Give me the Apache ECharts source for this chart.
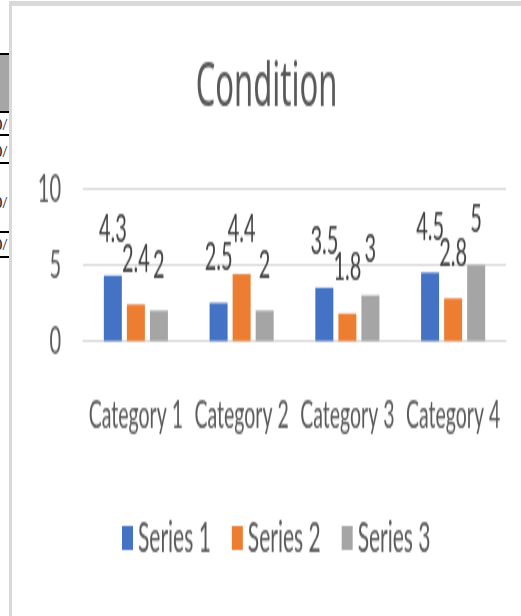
<!DOCTYPE html>
<html>
<head>
<meta charset="utf-8">
<script src="https://cdn.jsdelivr.net/npm/echarts@6/dist/echarts.min.js"></script>
<style>
  html, body { margin: 0; padding: 0; background: #ffffff; width: 521px; height: 616px; overflow: hidden; position: relative; font-family: 'Liberation Serif', serif; }
  #frame { position: absolute; left: 9px; top: 1px; width: 512px; height: 610px; border-left: 3px solid #d9d9d9; border-top: 5px solid #d9d9d9; border-bottom: 5px solid #d9d9d9; box-sizing: content-box; }
  #chart { position: absolute; left: 12px; top: 6px; width: 509px; height: 302px; transform: scaleY(2); transform-origin: 0 0; }
  .strip { position: absolute; left: 0; width: 9px; overflow: hidden; }
  .bl { position: absolute; left: 0; width: 9px; height: 2px; background: #000; }
  .pct { position: absolute; left: -6px; font-size: 17px; color: #222; line-height: 17px; }
</style>
</head>
<body>
<div class="strip" style="top:0;height:616px;">
  <div class="bl" style="top:53px;"></div>
  <div style="position:absolute;left:0;top:55px;width:9px;height:56px;background:#a6a6a6;"></div>
  <div class="bl" style="top:111px;"></div>
  <div class="pct" style="top:116px;">0/</div>
  <div class="bl" style="top:134px;"></div>
  <div class="pct" style="top:143px;">0/</div>
  <div class="bl" style="top:162px;"></div>
  <div class="pct" style="top:194px;">0/</div>
  <div class="bl" style="top:231px;"></div>
  <div class="pct" style="top:236px;">0/</div>
  <div class="bl" style="top:256px;"></div>
</div>
<div id="frame"></div>
<div id="chart"></div>
<script>
var categories = ['Category 1', 'Category 2', 'Category 3', 'Category 4'];
var seriesNames = ['Series 1', 'Series 2', 'Series 3'];
var series1 = [4.3, 2.5, 3.5, 4.5];
var series2 = [2.4, 4.4, 1.8, 2.8];
var series3 = [2, 2, 3, 5];
var yTicks = [0, 5, 10];
var colors = ['#4472C4', '#ED7D31', '#A5A5A5'];

var FONT = 'Lato';
var TXT = '#595959';
var seriesData = [series1, series2, series3];

var chart = echarts.init(document.getElementById('chart'), null, { renderer: 'canvas' });
chart.setOption({
  animation: false,
  backgroundColor: '#ffffff',
  color: colors,
  title: {
    text: 'Condition',
    left: 'center',
    top: 25.5,
    padding: [0, 0, 0, 16],
    textStyle: { fontFamily: 'Noto Sans', fontSize: 31, fontWeight: 'normal', color: TXT }
  },
  legend: {
    data: seriesNames,
    left: 105,
    top: 250.5,
    itemWidth: 11,
    itemHeight: 12,
    itemGap: 21,
    icon: 'rect',
    textStyle: { fontFamily: FONT, fontSize: 21, color: TXT }
  },
  grid: { left: 71, right: 15, top: 91.5, bottom: 134.5 },
  xAxis: {
    type: 'category',
    data: categories,
    axisLine: { lineStyle: { color: '#d9d9d9', width: 1 } },
    axisTick: { show: false },
    axisLabel: { fontFamily: FONT, fontSize: 19.5, color: TXT, margin: 27, interval: 0, hideOverlap: false }
  },
  yAxis: {
    type: 'value',
    min: yTicks[0],
    max: yTicks[yTicks.length - 1],
    interval: yTicks[1] - yTicks[0],
    axisLine: { show: false },
    axisTick: { show: false },
    splitLine: { lineStyle: { color: '#d9d9d9', width: 1 } },
    axisLabel: { fontFamily: FONT, fontSize: 20, color: TXT, margin: 22 }
  },
  series: seriesNames.map(function (name, i) {
    return {
      name: name,
      type: 'bar',
      data: seriesData[i],
      barWidth: 18,
      barGap: '28%',
      itemStyle: { color: colors[i] },
      label: {
        show: true,
        position: 'top',
        distance: 13,
        fontFamily: FONT,
        fontSize: 20,
        color: '#404040'
      }
    };
  })
});
</script>
</body>
</html>
